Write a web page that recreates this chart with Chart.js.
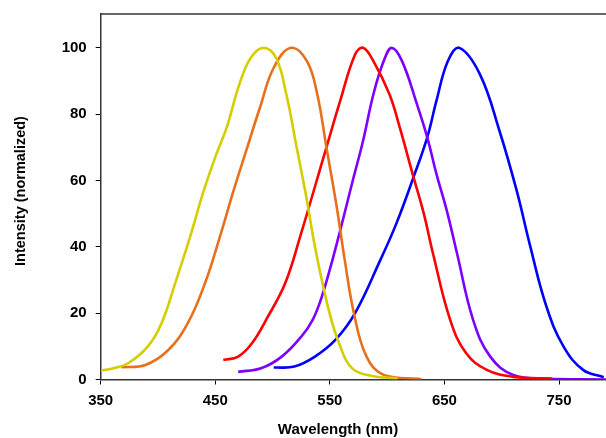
<!DOCTYPE html>
<html>
<head>
<meta charset="utf-8">
<script src="https://cdn.jsdelivr.net/npm/chart.js@4/dist/chart.umd.min.js"></script>
<style>
  html, body { margin: 0; padding: 0; background: #fff; }
  #box { width: 606px; height: 438px; }
</style>
</head>
<body>
<div id="box"><canvas id="wykres"></canvas></div>
<script>
// dlugosc fali [nm] i intensywnosc [%]
var yellowWl  = [350, 362, 374, 391, 403, 415, 428, 440, 451, 460, 471, 481, 492, 503, 512, 521, 530, 537, 549, 559, 570, 588, 609];
var yellowVal = [2.7, 3.5, 4.9, 9.9, 16.9, 29, 43, 57, 68, 76, 89, 97, 100, 97, 86, 70, 54, 40, 21, 10, 3.2, 1, 0.3];

var orangeWl  = [368, 389, 409, 426, 441, 454, 466, 477, 489, 501, 516, 530, 539, 547, 556, 563, 571, 582, 597, 630];
var orangeVal = [3.7, 4.4, 8.9, 17, 29, 43, 57, 69, 82, 94, 100, 96, 86, 70, 52, 36, 20, 6.9, 1.4, 0.1];

var redWl  = [457, 470, 482, 496, 511, 524, 547, 559, 572, 579, 588, 602, 611, 623, 632, 640, 655, 669, 687, 710, 744];
var redVal = [5.9, 6.9, 10.9, 19, 29, 43, 70, 84, 98, 100, 96, 86, 76, 61, 50, 38, 18, 7.9, 2.9, 0.8, 0.3];

var purpleWl  = [470, 490, 508, 525, 535, 543, 553, 562, 570, 579, 588, 597, 604, 613, 626, 635, 643, 652, 661, 675, 690, 710, 739, 791];
var purpleVal = [2.3, 3.4, 6.9, 12.9, 18, 25, 37, 49, 60, 72, 86, 96, 100, 96, 83, 73, 62, 51, 38, 18, 6.9, 1.4, 0.2, 0];

var blueWl  = [501, 519, 537, 555, 572, 594, 608, 623, 635, 643, 653, 663, 681, 698, 713, 725, 739, 754, 771, 789];
var blueVal = [3.6, 3.9, 6.9, 12, 20, 36, 47, 61, 73, 84, 96, 100, 92, 75, 57, 40, 22, 9.9, 2.9, 0.7];

var xTicks = [350, 450, 550, 650, 750];
var yTicks = [0, 20, 40, 60, 80, 100];

function punkty(wl, val) {
  var out = [];
  for (var i in wl) out.push({ x: wl[i], y: val[i] });
  return out;
}

function seria(label, wl, val, kolor) {
  return {
    label: label,
    data: punkty(wl, val),
    borderColor: kolor,
    backgroundColor: kolor,
    borderWidth: 2.6,
    pointRadius: 0,
    fill: false,
    tension: 0.4
  };
}

// bez dodatkowego marginesu od etykiet osi
function bezPaddingu(s) {
  s.paddingTop = 0; s.paddingBottom = 0; s.paddingLeft = 0; s.paddingRight = 0;
}

var fontTick = { family: 'Liberation Sans, Arial, sans-serif', size: 15, weight: 'bold' };

// tytuly osi rysowane recznie, zeby trafic w pozycje z oryginalu
var tytuly = {
  id: 'tytuly',
  afterDraw: function (chart) {
    var ctx = chart.ctx;
    ctx.save();
    ctx.fillStyle = '#000';
    ctx.font = 'bold 15px "Liberation Sans", Arial, sans-serif';
    ctx.textAlign = 'center';
    ctx.textBaseline = 'middle';
    ctx.fillText('Wavelength (nm)', 338, 430);
    ctx.translate(21, 191);
    ctx.rotate(-Math.PI / 2);
    ctx.font = 'bold 14.5px "Liberation Sans", Arial, sans-serif';
    ctx.fillText('Intensity (normalized)', 0, 0);
    ctx.restore();
  }
};

new Chart(document.getElementById('wykres'), {
  type: 'line',
  data: {
    datasets: [
      seria('yellow', yellowWl, yellowVal, 'rgb(212, 206, 0)'),
      seria('orange', orangeWl, orangeVal, 'rgb(232, 112, 28)'),
      seria('red', redWl, redVal, 'rgb(255, 0, 0)'),
      seria('purple', purpleWl, purpleVal, 'rgb(125, 0, 255)'),
      seria('blue', blueWl, blueVal, 'rgb(0, 0, 255)')
    ]
  },
  options: {
    responsive: true,
    maintainAspectRatio: false,
    animation: false,
    layout: { padding: { top: 14, left: 0, right: 0, bottom: 0 } },
    plugins: { legend: { display: false }, tooltip: { enabled: false } },
    scales: {
      x: {
        type: 'linear',
        min: 350,
        max: 791,
        afterFit: function (s) { s.height = 58.5; bezPaddingu(s); },
        afterBuildTicks: function (s) { s.ticks = xTicks.map(function (v) { return { value: v }; }); },
        grid: { drawOnChartArea: false, drawTicks: true, tickLength: 5, color: '#000', lineWidth: 1 },
        border: { color: '#333', width: 1.5 },
        ticks: { color: '#000', font: fontTick, padding: 7, maxRotation: 0 }
      },
      xTop: {
        type: 'linear',
        position: 'top',
        min: 350,
        max: 791,
        afterFit: function (s) { s.height = 0; bezPaddingu(s); },
        grid: { display: false, drawTicks: false },
        border: { color: '#666', width: 2 },
        ticks: { display: false }
      },
      y: {
        min: 0,
        max: 110.2,
        afterFit: function (s) { s.width = 100.7; bezPaddingu(s); },
        afterBuildTicks: function (s) { s.ticks = yTicks.map(function (v) { return { value: v }; }); },
        grid: { drawOnChartArea: false, drawTicks: true, tickLength: 5, color: '#000', lineWidth: 1 },
        border: { color: '#333', width: 1.5 },
        ticks: { color: '#000', font: fontTick, padding: 9 }
      }
    }
  },
  plugins: [tytuly]
});
</script>
</body>
</html>
